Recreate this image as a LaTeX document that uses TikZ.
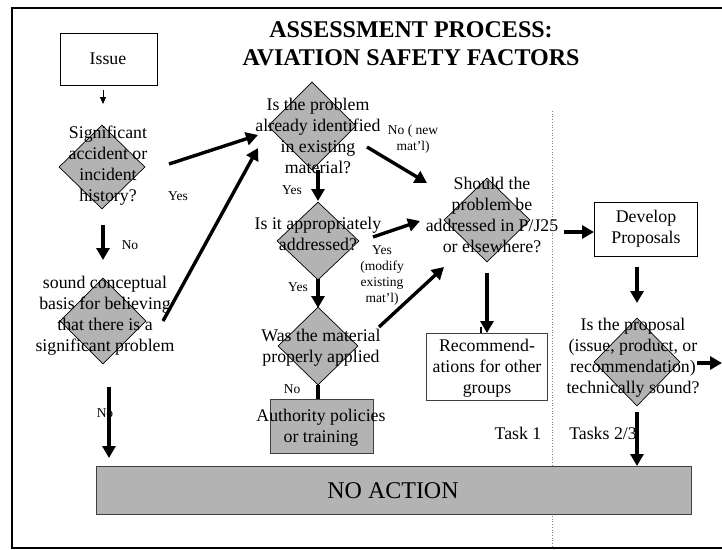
\documentclass[tikz,border=0pt]{standalone}
\usepackage{fontspec}
\setmainfont{Liberation Serif}
\usetikzlibrary{shapes.geometric,arrows.meta}
\definecolor{gfill}{HTML}{B3B3B3}
\definecolor{gedge}{HTML}{404040}
\begin{document}
\begin{tikzpicture}[x=1pt,y=-1pt,
  dia/.style 2 args={diamond, draw=black, line width=0.7pt, fill=gfill, inner sep=0pt, minimum width=#1, minimum height=#2},
  qtext/.style={align=center, font=\fontsize{17.8}{21}\selectfont, inner sep=0pt},
  lbl/.style={align=center, font=\fontsize{13.5}{16.3}\selectfont, inner sep=0pt},
  wbox/.style={draw=black, line width=0.8pt, fill=white, inner sep=0pt},
  gbox/.style={draw=gedge, line width=1pt, fill=gfill, inner sep=0pt},
  thick arrow/.style={line width=3.4pt, -{Triangle[length=12pt,width=13pt]}},
  thin arrow/.style={line width=0.8pt, -{Triangle[length=7pt,width=6pt]}},
  thickline/.style={line width=3.4pt}
]
\useasboundingbox (0,0) rectangle (722,549);
% frame
\draw[line width=2pt] (12,549) -- (12,8) -- (722,8);
\draw[line width=1.3pt] (12,548) -- (722,548);
% divider
\draw[gray, dotted, line width=0.7pt] (552,111) -- (552,548);

% title
\node[align=center, font=\fontsize{24}{28}\selectfont\bfseries, inner sep=0pt] (title) at (411,44) {ASSESSMENT PROCESS:\\AVIATION SAFETY FACTORS};

% boxes
\node[wbox, minimum width=97pt, minimum height=52pt] (issue) at (108.5,59) {};
\node[qtext] (issuet) at (108,59) {Issue};
\node[wbox, minimum width=103pt, minimum height=54pt] (dev) at (645.5,229) {};
\node[qtext] (devt) at (646,229) {Develop\\Proposals};
\node[wbox, draw=gedge, minimum width=121pt, minimum height=67pt] (rec) at (486.5,366.5) {};
\node[qtext] (rect) at (487,368) {Recommend-\\ations for other\\groups};
\node[gbox, minimum width=103pt, minimum height=54pt] (auth) at (321.5,426) {};
\node[qtext] (autht) at (321,428) {Authority policies\\or training};
\node[gbox, minimum width=595pt, minimum height=48pt] (noact) at (393.5,490) {};
\node[font=\fontsize{24}{28}\selectfont, inner sep=0pt] (noactt) at (393,491) {NO ACTION};

% diamonds
\node[dia={86pt}{84pt}] (d1) at (102,167) {};
\node[dia={86pt}{86pt}] (d2) at (103,321) {};
\node[dia={88pt}{88pt}] (d3) at (312,126) {};
\node[dia={82pt}{78pt}] (d4) at (318,241) {};
\node[dia={80pt}{78pt}] (d5) at (318,346) {};
\node[dia={86pt}{84pt}] (d6) at (487,220) {};
\node[dia={86pt}{88pt}] (d7) at (637,362) {};

% diamond texts
\node[qtext] (t1) at (108,166) {Significant\\accident or\\incident\\history?};
\node[qtext] (t2) at (105,316) {sound conceptual\\basis for believing\\that there is a\\significant problem};
\node[qtext] (t3) at (318,136) {Is the problem\\already identified\\in existing\\material?};
\node[qtext] (t4) at (318,234) {Is it appropriately\\addressed?};
\node[qtext] (t5) at (321,348) {Was the material\\properly applied};
\node[qtext] (t6) at (492,215) {Should the\\problem be\\addressed in P/J25\\or elsewhere?};
\node[qtext] (t7) at (633,358) {Is the proposal\\(issue, product, or\\recommendation)\\technically sound?};

% task labels
\node[qtext] (task1) at (518,433) {Task 1};
\node[qtext] (task23) at (603,433) {Tasks 2/3};

% small labels
\node[lbl] (l1) at (178,196) {Yes};
\node[lbl] (l2) at (130,245) {No};
\node[lbl] (l3) at (105,413) {No};
\node[lbl] (l4) at (413,139) {No ( new\\mat’l)};
\node[lbl] (l5) at (292,190) {Yes};
\node[lbl] (l6) at (298,287) {Yes};
\node[lbl] (l7) at (382,275.5) {Yes\\(modify\\existing\\mat’l)};
\node[lbl] (l8) at (292,389) {No};

% connector end points
\coordinate (a1s) at (103,90);   \coordinate (a1e) at (103,104);
\coordinate (a2s) at (169,164);  \coordinate (a2e) at (258,135);
\coordinate (a3s) at (103,225);  \coordinate (a3e) at (103,260);
\coordinate (a4s) at (163,321);  \coordinate (a4e) at (258,148);
\coordinate (a5s) at (109,387);  \coordinate (a5e) at (109,458);
\coordinate (a6s) at (318,170);  \coordinate (a6e) at (318,201);
\coordinate (a7s) at (367,147);  \coordinate (a7e) at (427,183);
\coordinate (a8s) at (318,279);  \coordinate (a8e) at (318,308);
\coordinate (a9s) at (373,237);  \coordinate (a9e) at (420,221);
\coordinate (a10s) at (379,327); \coordinate (a10e) at (444,267);
\coordinate (a12s) at (487,273); \coordinate (a12e) at (487,333);
\coordinate (a14s) at (564,232); \coordinate (a14e) at (594,232);
\coordinate (a15s) at (637,267); \coordinate (a15e) at (637,303);
\coordinate (a16s) at (697,363); \coordinate (a16e) at (722,363);
\coordinate (a17s) at (637,412); \coordinate (a17e) at (637,466);

% connectors
\draw[thin arrow] (a1s) -- (a1e);
\draw[thick arrow] (a2s) -- (a2e);
\draw[thick arrow] (a3s) -- (a3e);
\draw[thick arrow] (a4s) -- (a4e);
\draw[thick arrow] (a5s) -- (a5e);
\draw[thick arrow] (a6s) -- (a6e);
\draw[thick arrow] (a7s) -- (a7e);
\draw[thick arrow] (a8s) -- (a8e);
\draw[thick arrow] (a9s) -- (a9e);
\draw[thick arrow] (a10s) -- (a10e);
\draw[thickline] (d5.south) -- (d5.south |- auth.north);
\draw[thick arrow] (a12s) -- (a12e);
\draw[line width=2.4pt] (481,327) -- (rec.north -| 481,0);
\draw[thick arrow] (a14s) -- (a14e);
\draw[thick arrow] (a15s) -- (a15e);
\draw[thick arrow] (a16s) -- (a16e);
\draw[thick arrow] (a17s) -- (a17e);
\end{tikzpicture}
\end{document}
